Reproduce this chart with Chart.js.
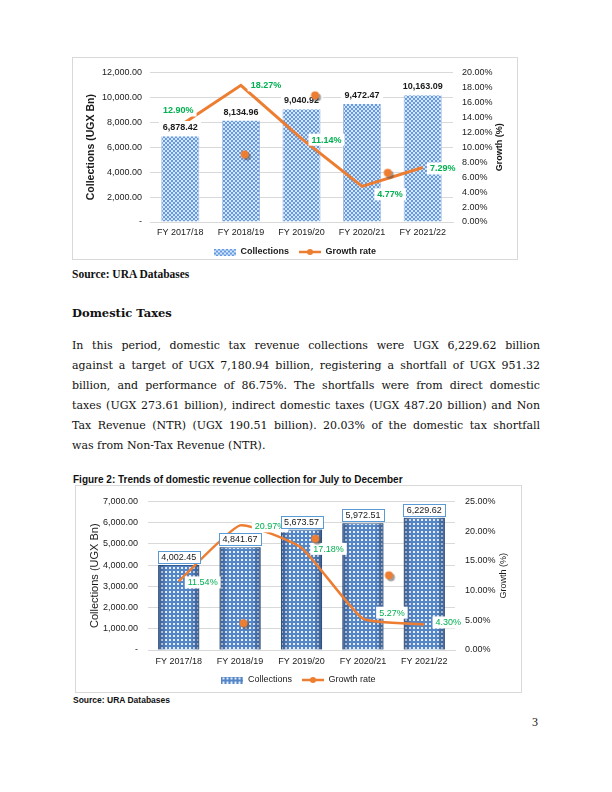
<!DOCTYPE html>
<html>
<head>
<meta charset="utf-8">
<title>Revenue collections</title>
<script src="https://cdn.jsdelivr.net/npm/chart.js@4.4.1/dist/chart.umd.min.js"></script>
<style>
  body { margin: 0; background: #fff; }
  .page { position: relative; width: 612px; height: 792px; overflow: hidden; color: #111; font-family: "Liberation Serif", serif; }
  .t { position: absolute; left: 72px; white-space: nowrap; }
  .frame { position: absolute; border: 1px solid #d9d9d9; box-sizing: border-box; }
  .frame canvas { position: absolute; left: 0; top: 0; }
  .src1 { top: 267px; font-weight: bold; font-size: 11.5px; line-height: 14px; }
  .head { top: 306px; font-family: "DejaVu Serif", serif; font-weight: bold; font-size: 11.5px; line-height: 14px; }
  .body { position: absolute; left: 72px; top: 336px; width: 468px; font-family: "DejaVu Serif", serif; font-size: 11px; line-height: 20px; }
  .ln { white-space: nowrap; text-align: left; }
  .ln.just { text-align: justify; text-align-last: justify; }
  .fig { left: 73px; top: 473px; font-family: "Liberation Sans", sans-serif; font-weight: bold; font-size: 10px; line-height: 14px; }
  .src2 { left: 73px; top: 693px; font-family: "Liberation Sans", sans-serif; font-weight: bold; font-size: 8.5px; line-height: 14px; }
  .pno { left: 532px; top: 715px; font-size: 12px; line-height: 14px; }
</style>
</head>
<body>
<div class="page">
  <div class="frame" style="left:72px;top:57px;width:446px;height:203px;">
    <canvas id="totalChart" width="444" height="201"></canvas>
  </div>
  <div class="t src1">Source: URA Databases</div>
  <div class="t head">Domestic Taxes</div>
  <div class="body">
    <div class="ln fit"><span>In this period, domestic tax revenue collections were UGX 6,229.62 billion</span></div>
    <div class="ln fit"><span>against a target of UGX 7,180.94 billion, registering a shortfall of UGX 951.32</span></div>
    <div class="ln fit"><span>billion, and performance of 86.75%. The shortfalls were from direct domestic</span></div>
    <div class="ln fit"><span>taxes (UGX 273.61 billion), indirect domestic taxes (UGX 487.20 billion) and Non</span></div>
    <div class="ln fit"><span>Tax Revenue (NTR) (UGX 190.51 billion). 20.03% of the domestic tax shortfall</span></div>
    <div class="ln"><span>was from Non-Tax Revenue (NTR).</span></div>
  </div>
  <div class="t fig">Figure 2: Trends of domestic revenue collection for July to December</div>
  <div class="frame" style="left:75px;top:485px;width:447px;height:208px;">
    <canvas id="domesticChart" width="445" height="206"></canvas>
  </div>
  <div class="t src2">Source: URA Databases</div>
  <div class="t pno">3</div>
</div>

<script>
// values
const fiscalYears = ['FY 2017/18', 'FY 2018/19', 'FY 2019/20', 'FY 2020/21', 'FY 2021/22'];

const totalCollections = [6878.42, 8134.96, 9040.92, 9472.47, 10163.09];
const totalGrowth = [12.90, 18.27, 11.14, 4.77, 7.29];
// the loose orange markers in the picture (x in category steps, y in %)
const totalMarkerX = [0.85, 2.3, 3.8, 5.35];
const totalMarkerY = [8.9, 16.8, 6.45, -3.35];

const domesticCollections = [4002.45, 4841.67, 5673.57, 5972.51, 6229.62];
const domesticGrowth = [11.54, 20.97, 17.18, 5.27, 4.30];
const domesticMarkerX = [0.84, 2.3, 3.8, 5.27];
const domesticMarkerY = [4.35, 18.55, 12.4, -4.84];

const totalLeftMax = 12000, totalLeftStep = 2000;
const totalRightMax = 20, totalRightStep = 2;
const domesticLeftMax = 7000, domesticLeftStep = 1000;
const domesticRightMax = 25, domesticRightStep = 5;

const ORANGE = '#ed7d31';
const GREEN = '#00b050';
const SANS = '"Liberation Sans", Arial, sans-serif';

function money(v) {
  return v.toLocaleString('en-US', { minimumFractionDigits: 2, maximumFractionDigits: 2 });
}
function pct(v) {
  return v.toFixed(2) + '%';
}

// justify the paragraph lines, squeezing any that are too long
document.querySelectorAll('.ln.fit').forEach(function (el) {
  const span = el.firstElementChild;
  const w = span.getBoundingClientRect().width;
  if (w > 468) {
    el.style.letterSpacing = ((468 - w) / span.textContent.length).toFixed(3) + 'px';
  }
  el.classList.add('just');
});

function makeTile(bg, fg, cells) {
  const c = document.createElement('canvas');
  c.width = 4; c.height = 4;
  const g = c.getContext('2d');
  g.fillStyle = bg;
  g.fillRect(0, 0, 4, 4);
  g.fillStyle = fg;
  cells.forEach(function (p) { g.fillRect(p[0], p[1], 2, 2); });
  return c;
}

function patternOf(tile) {
  return document.createElement('canvas').getContext('2d').createPattern(tile, 'repeat');
}

function barIcon(tile) {
  const c = document.createElement('canvas');
  c.width = 22; c.height = 7;
  const g = c.getContext('2d');
  g.fillStyle = g.createPattern(tile, 'repeat');
  g.fillRect(0, 0, 22, 7);
  return c;
}

function lineIcon() {
  const c = document.createElement('canvas');
  c.width = 22; c.height = 8;
  const g = c.getContext('2d');
  g.strokeStyle = ORANGE;
  g.lineWidth = 2.5;
  g.beginPath(); g.moveTo(0, 4); g.lineTo(22, 4); g.stroke();
  g.fillStyle = ORANGE;
  g.beginPath(); g.arc(11, 4, 3, 0, Math.PI * 2); g.fill();
  return c;
}

function markerImage() {
  const c = document.createElement('canvas');
  c.width = 13; c.height = 13;
  const g = c.getContext('2d');
  g.fillStyle = 'rgba(80,80,80,0.55)';
  g.beginPath(); g.arc(7.5, 7.5, 4, 0, Math.PI * 2); g.fill();
  g.fillStyle = ORANGE;
  g.beginPath(); g.arc(5.5, 5.5, 4, 0, Math.PI * 2); g.fill();
  return c;
}

function drawLabels(chart, opts) {
  const ctx = chart.ctx;
  ctx.save();
  ctx.textAlign = 'center';
  ctx.textBaseline = 'middle';

  const pts = chart.getDatasetMeta(1).data;
  const growth = chart.data.datasets[1].data;
  ctx.font = opts.growthFont;
  pts.forEach(function (pt, i) {
    const txt = pct(growth[i]);
    const off = opts.growthOffsets[i];
    const cx = pt.x + off[0], cy = pt.y + off[1];
    const w = ctx.measureText(txt).width + 6, h = 12;
    ctx.fillStyle = '#fff';
    ctx.fillRect(cx - w / 2, cy - h / 2, w, h);
    ctx.fillStyle = GREEN;
    ctx.fillText(txt, cx, cy + 0.5);
  });

  const bars = chart.getDatasetMeta(0).data;
  const barValues = chart.data.datasets[0].data;
  ctx.font = opts.barFont;
  bars.forEach(function (bar, i) {
    const txt = money(barValues[i]);
    const w = Math.round(ctx.measureText(txt).width + 7), h = 12;
    const x0 = Math.round(bar.x - w / 2), y0 = Math.round(bar.y - opts.barGap - h / 2);
    ctx.fillStyle = '#fff';
    ctx.fillRect(x0, y0, w, h);
    if (opts.barBorder) {
      ctx.strokeStyle = opts.barBorder;
      ctx.lineWidth = 1;
      ctx.strokeRect(x0 + 0.5, y0 + 0.5, w, h);
    }
    ctx.fillStyle = '#1a1a1a';
    ctx.fillText(txt, bar.x, y0 + h / 2 + 0.5);
  });
  ctx.restore();
}

// bar edge shading, labels (under the loose markers), right axis title
const decorations = {
  id: 'decorations',
  afterDatasetDraw(chart, args, opts) {
    const ctx = chart.ctx;
    if (args.index === 0 && opts.edgeShade) {
      ctx.save();
      args.meta.data.forEach(function (bar) {
        const l = bar.x - bar.width / 2, r = bar.x + bar.width / 2;
        const grad = ctx.createLinearGradient(l, 0, r, 0);
        grad.addColorStop(0, opts.edgeShade);
        grad.addColorStop(0.2, 'rgba(0,0,0,0)');
        grad.addColorStop(0.8, 'rgba(0,0,0,0)');
        grad.addColorStop(1, opts.edgeShade);
        ctx.fillStyle = grad;
        ctx.fillRect(l, bar.y, r - l, bar.base - bar.y);
      });
      ctx.restore();
    }
    if (args.index === 1) {
      drawLabels(chart, opts);
    }
  },
  afterDatasetsDraw(chart, args, opts) {
    const ctx = chart.ctx;
    const ry = chart.scales.y1;
    const area = chart.chartArea;
    ctx.save();
    ctx.textAlign = 'center';
    ctx.textBaseline = 'middle';
    ctx.font = opts.rightTitleFont;
    ctx.fillStyle = '#1a1a1a';
    ctx.translate(ry.right - opts.rightTitleInset, (area.top + area.bottom) / 2);
    ctx.rotate(-Math.PI / 2);
    ctx.fillText('Growth (%)', 0, 0);
    ctx.restore();
  }
};

function buildChart(canvasId, cfg) {
  const markers = cfg.markerX.map(function (x, i) { return { x: x, y: cfg.markerY[i] }; });
  const tickFont = { family: SANS, size: 9 };
  const legendIcons = [barIcon(cfg.tile), lineIcon()];

  return new Chart(document.getElementById(canvasId), {
    type: 'bar',
    data: {
      labels: fiscalYears,
      datasets: [
        {
          label: 'Collections',
          data: cfg.collections,
          backgroundColor: patternOf(cfg.tile),
          borderColor: cfg.barEdge,
          borderWidth: cfg.barEdgeWidth,
          grouped: false,
          categoryPercentage: cfg.barShare,
          barPercentage: 1,
          yAxisID: 'y',
          order: 3
        },
        {
          type: 'line',
          label: 'Growth rate',
          data: cfg.growth,
          borderColor: ORANGE,
          borderWidth: cfg.lineWidth,
          tension: cfg.tension,
          pointRadius: 0,
          fill: false,
          yAxisID: 'y1',
          order: 2
        },
        {
          type: 'scatter',
          label: 'markers',
          data: markers,
          xAxisID: 'xs',
          yAxisID: 'y1',
          pointStyle: markerImage(),
          pointRadius: 5,
          clip: false,
          order: 1
        }
      ]
    },
    options: {
      responsive: false,
      animation: false,
      devicePixelRatio: 1,
      layout: { padding: { top: 9, left: 0, right: 0, bottom: 0 } },
      plugins: {
        tooltip: { enabled: false },
        legend: {
          position: 'bottom',
          maxHeight: cfg.legendHeight,
          labels: {
            usePointStyle: true,
            pointStyleWidth: 22,
            padding: 10,
            color: '#1a1a1a',
            font: { family: SANS, size: 9, weight: cfg.strongText ? 'bold' : 'normal' },
            generateLabels: function () {
              return ['Collections', 'Growth rate'].map(function (name, i) {
                return {
                  text: name, pointStyle: legendIcons[i], datasetIndex: i,
                  fillStyle: 'transparent', strokeStyle: 'transparent', lineWidth: 0,
                  fontColor: '#1a1a1a', hidden: false
                };
              });
            }
          }
        },
        decorations: {
          barFont: (cfg.strongText ? 'bold ' : '') + '9px ' + SANS,
          barBorder: cfg.labelBorder,
          barGap: cfg.barGap,
          growthFont: (cfg.strongText ? 'bold ' : '') + '9px ' + SANS,
          growthOffsets: cfg.growthOffsets,
          rightTitleFont: (cfg.strongText ? 'bold ' : '') + '9px ' + SANS,
          rightTitleInset: 17,
          edgeShade: cfg.edgeShade
        }
      },
      scales: {
        x: {
          grid: { display: false, drawTicks: false },
          border: { color: '#d9d9d9' },
          ticks: { color: '#1a1a1a', font: tickFont, padding: cfg.xPad },
          afterFit: function (s) { s.height = 15.5; }
        },
        xs: { type: 'linear', display: false, min: -0.5, max: 4.5 },
        y: {
          position: 'left',
          min: 0,
          max: cfg.leftMax,
          grid: { color: '#d9d9d9', drawTicks: false },
          border: { display: false },
          ticks: {
            stepSize: cfg.leftStep,
            padding: cfg.leftPad,
            color: '#1a1a1a',
            font: tickFont,
            callback: function (v) { return v === 0 ? '-' : money(v); }
          },
          title: {
            display: true,
            text: 'Collections (UGX Bn)',
            color: '#1a1a1a',
            font: { family: SANS, size: cfg.leftTitleSize, weight: cfg.strongText ? 'bold' : 'normal' },
            padding: { top: cfg.leftTitleInset, bottom: 0 }
          },
          afterFit: function (s) { s.width = cfg.leftWidth; }
        },
        y1: {
          position: 'right',
          min: 0,
          max: cfg.rightMax,
          grid: { display: false, drawTicks: false },
          border: { display: false },
          ticks: {
            stepSize: cfg.rightStep,
            padding: cfg.rightPad,
            color: '#1a1a1a',
            font: tickFont,
            callback: function (v) { return pct(v); }
          },
          afterFit: function (s) { s.width = cfg.rightWidth; }
        }
      }
    },
    plugins: [decorations]
  });
}

buildChart('totalChart', {
  collections: totalCollections,
  growth: totalGrowth,
  markerX: totalMarkerX,
  markerY: totalMarkerY,
  leftMax: totalLeftMax, leftStep: totalLeftStep,
  rightMax: totalRightMax, rightStep: totalRightStep,
  tile: makeTile('#d4e6fb', '#6699de', [[0, 0], [2, 2]]),
  barEdge: '#a9c0dc',
  barEdgeWidth: { left: 1, right: 1, top: 0, bottom: 0 },
  barShare: 0.63,
  lineWidth: 3,
  tension: 0,
  strongText: true,
  labelBorder: null,
  barGap: 9,
  growthOffsets: [[-2, -15], [25, 0], [25, 1], [28, 8], [20, 1]],
  edgeShade: null,
  legendHeight: 21.5,
  xPad: 5,
  leftPad: 8, rightPad: 9,
  leftWidth: 77, rightWidth: 64,
  leftTitleSize: 10.5, leftTitleInset: 12
});

buildChart('domesticChart', {
  collections: domesticCollections,
  growth: domesticGrowth,
  markerX: domesticMarkerX,
  markerY: domesticMarkerY,
  leftMax: domesticLeftMax, leftStep: domesticLeftStep,
  rightMax: domesticRightMax, rightStep: domesticRightStep,
  tile: makeTile('#5586c8', '#e6effb', [[1, 1]]),
  barEdge: '#34598c',
  barEdgeWidth: { left: 1, right: 1, top: 1, bottom: 0 },
  barShare: 0.67,
  lineWidth: 2.5,
  tension: 0.15,
  strongText: false,
  labelBorder: '#5b9bd5',
  barGap: 8,
  growthOffsets: [[24, 1], [30, 1], [27, 1], [29, -6], [24, -2]],
  edgeShade: 'rgba(25,50,95,0.45)',
  legendHeight: 26.5,
  xPad: 6,
  leftPad: 10, rightPad: 10,
  leftWidth: 72, rightWidth: 66,
  leftTitleSize: 11, leftTitleInset: 12
});
</script>
</body>
</html>
